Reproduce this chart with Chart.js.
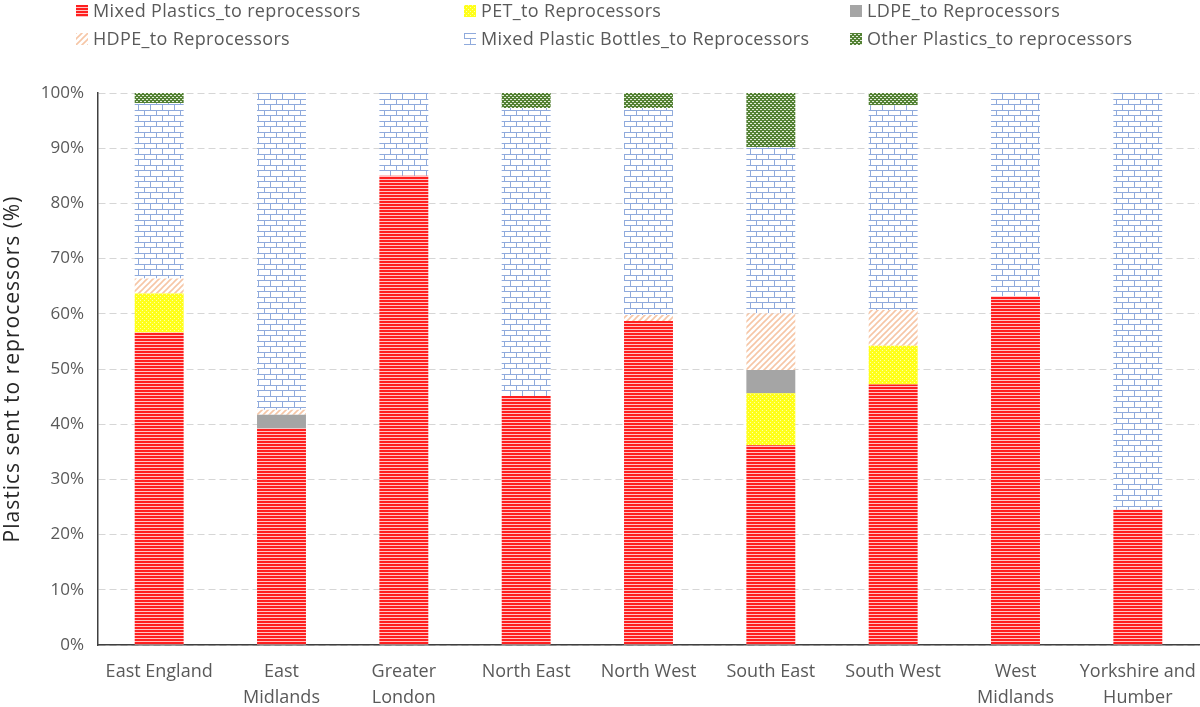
<!DOCTYPE html>
<html>
<head>
<meta charset="utf-8">
<script src="https://cdn.jsdelivr.net/npm/chart.js@4/dist/chart.umd.min.js"></script>
<style>
  html, body { margin: 0; padding: 0; background: #fff; }
  #wrap { position: relative; width: 1200px; height: 707px; overflow: hidden; }
  #chart { position: absolute; left: 0; top: 0; }
  .lg { position: absolute; font: 18px 'Open Sans', sans-serif; letter-spacing: 0.35px; color: #595959; white-space: nowrap; line-height: 20px; }
  .lg canvas { position: absolute; left: -17px; top: 5px; width: 12px; height: 12px; }
</style>
</head>
<body>
<div id="wrap">
  <canvas id="chart" width="1200" height="707"></canvas>
  <div id="legend"></div>
</div>
<script>
/* ---- data ---- */
const regions = [
  'East England', ['East', 'Midlands'], ['Greater', 'London'], 'North East', 'North West',
  'South East', 'South West', ['West', 'Midlands'], ['Yorkshire and', 'Humber']
];
const seriesNames = [
  'Mixed Plastics_to reprocessors', 'PET_to Reprocessors', 'LDPE_to Reprocessors',
  'HDPE_to Reprocessors', 'Mixed Plastic Bottles_to Reprocessors', 'Other Plastics_to reprocessors'
];
const mixedPlastics = [56.6, 39.2, 85.0, 45.1, 58.7, 36.2, 47.2, 63.2, 24.5];
const pet           = [7.1, 0, 0, 0, 0, 9.4, 7.0, 0, 0];
const ldpe          = [0, 2.5, 0, 0, 0, 4.2, 0, 0, 0];
const hdpe          = [2.7, 0.9, 0, 0, 1.1, 10.3, 6.5, 0, 0];
const bottles       = [31.8, 57.4, 15.0, 52.2, 37.5, 30.1, 37.1, 36.8, 75.5];
const otherPlastics = [1.8, 0, 0, 2.7, 2.7, 9.8, 2.2, 0, 0];
const yTicks = [0, 10, 20, 30, 40, 50, 60, 70, 80, 90, 100];
const yTitle = 'Plastics sent to reprocessors (%)';

/* ---- fill patterns (Excel-style) ---- */
function tile(w, h, draw) {
  const c = document.createElement('canvas');
  c.width = w; c.height = h;
  draw(c.getContext('2d'), w, h);
  return c;
}
const tiles = [
  // red horizontal lines
  tile(4, 3, (g) => { g.fillStyle = '#ffc4c4'; g.fillRect(0, 0, 4, 3); g.fillStyle = '#ff1f1f'; g.fillRect(0, 0, 4, 2); }),
  // yellow with light dots
  tile(4, 4, (g) => { g.fillStyle = '#ffff1a'; g.fillRect(0, 0, 4, 4); g.fillStyle = '#ffffa8'; g.fillRect(0, 0, 1, 1); g.fillRect(2, 2, 1, 1); }),
  // solid grey
  tile(2, 2, (g) => { g.fillStyle = '#a5a5a5'; g.fillRect(0, 0, 2, 2); }),
  // light orange diagonal stripes
  tile(6, 6, (g) => {
    g.fillStyle = '#ffffff'; g.fillRect(0, 0, 6, 6);
    g.strokeStyle = '#f6c6a6'; g.lineWidth = 1.6;
    g.beginPath();
    g.moveTo(-1, 7); g.lineTo(7, -1);
    g.moveTo(-1, 1); g.lineTo(1, -1);
    g.moveTo(5, 7); g.lineTo(7, 5);
    g.stroke();
  }),
  // blue bricks
  tile(12, 11, (g) => {
    g.fillStyle = '#ffffff'; g.fillRect(0, 0, 12, 11);
    g.fillStyle = '#8faadc';
    g.fillRect(0, 0, 12, 1); g.fillRect(0, 5, 12, 1);
    g.fillRect(0, 0, 1, 5); g.fillRect(6, 5, 1, 6);
  }),
  // dark green with white dots
  tile(4, 4, (g) => { g.fillStyle = '#548235'; g.fillRect(0, 0, 4, 4); g.fillStyle = '#e4eedb'; g.fillRect(0, 1, 2, 1); g.fillRect(2, 3, 2, 1); })
];

const ctx = document.getElementById('chart').getContext('2d');
const fills = tiles.map(t => ctx.createPattern(t, 'repeat'));
const values = [mixedPlastics, pet, ldpe, hdpe, bottles, otherPlastics];

/* ---- legend (two rows, three columns like the original) ---- */
const legendPos = [[93, 0], [481, 0], [867, 0], [93, 28], [481, 28], [867, 28]];
const legendEl = document.getElementById('legend');
seriesNames.forEach((name, i) => {
  const item = document.createElement('div');
  item.className = 'lg';
  item.style.left = legendPos[i][0] + 'px';
  item.style.top = legendPos[i][1] + 'px';
  const sw = document.createElement('canvas');
  sw.width = 12; sw.height = 12;
  const sg = sw.getContext('2d');
  sg.fillStyle = sg.createPattern(tiles[i], 'repeat');
  sg.fillRect(0, 0, 12, 12);
  item.appendChild(sw);
  item.appendChild(document.createTextNode(name));
  legendEl.appendChild(item);
});

/* y title drawn by hand so it can get some letter spacing */
const yTitlePlugin = {
  id: 'yTitle',
  afterDraw(chart) {
    const { ctx, chartArea } = chart;
    ctx.save();
    ctx.translate(13, (chartArea.top + chartArea.bottom) / 2);
    ctx.rotate(-Math.PI / 2);
    ctx.font = "21px 'Open Sans', sans-serif";
    ctx.letterSpacing = '1px';
    ctx.fillStyle = '#262626';
    ctx.textAlign = 'center';
    ctx.textBaseline = 'middle';
    ctx.fillText(yTitle, 0, 0);
    ctx.restore();
  },
};

/* ---- chart ---- */
new Chart(ctx, {
  type: 'bar',
  data: {
    labels: regions,
    datasets: seriesNames.map((name, i) => ({
      label: name,
      data: values[i],
      backgroundColor: fills[i],
      borderWidth: 0,
      barPercentage: 0.4,
      categoryPercentage: 1,
    })),
  },
  plugins: [yTitlePlugin],
  options: {
    responsive: false,
    animation: false,
    layout: { padding: { top: 93, right: 1, left: 0, bottom: 0 } },
    plugins: { legend: { display: false }, tooltip: { enabled: false } },
    scales: {
      x: {
        stacked: true,
        grid: { display: false, drawTicks: false },
        border: { display: true, color: '#404040', width: 1.5 },
        ticks: {
          autoSkip: false, maxRotation: 0, padding: 14, color: '#595959',
          font: { family: "'Open Sans', sans-serif", size: 18, lineHeight: 1.45 },
        },
        afterFit: s => { s.height = 62; s.paddingLeft = 0; s.paddingRight = 0; },
      },
      y: {
        stacked: true,
        min: 0,
        max: 100,
        afterBuildTicks: s => { s.ticks = yTicks.map(v => ({ value: v })); },
        grid: { color: '#d6d6d6', drawTicks: false, lineWidth: 1 },
        border: { display: true, color: '#404040', width: 1.5, dash: [7, 4] },
        ticks: {
          padding: 14, color: '#595959',
          font: { family: "'Open Sans', sans-serif", size: 17 },
          callback: v => v + '%',
        },
        afterFit: s => { s.width = 98; },
      },
    },
  },
});
</script>
</body>
</html>
